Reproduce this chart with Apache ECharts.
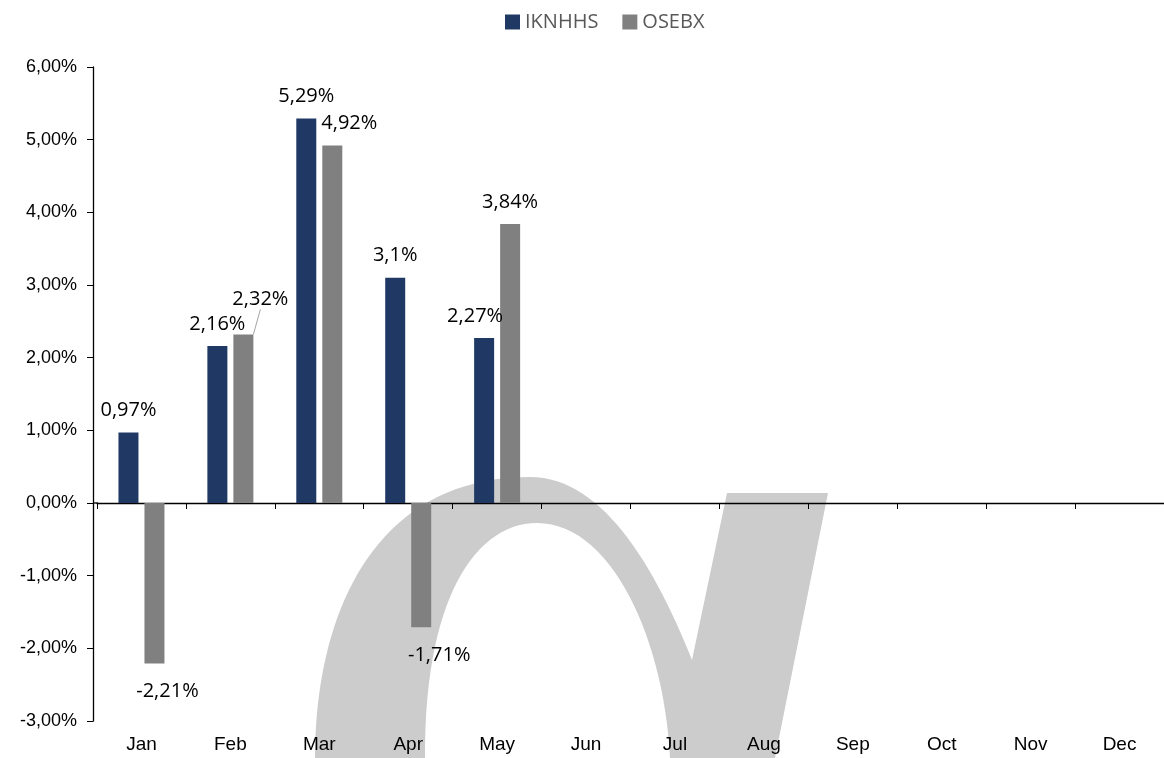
<!DOCTYPE html>
<html>
<head>
<meta charset="utf-8">
<script src="https://cdn.jsdelivr.net/npm/echarts@6/dist/echarts.min.js"></script>
<style>
  html, body { margin: 0; padding: 0; background: #ffffff; }
  #chart { width: 1164px; height: 758px; }
</style>
</head>
<body>
<div id="chart"></div>
<script>
// ---- data ----
const months = ['Jan','Feb','Mar','Apr','May','Jun','Jul','Aug','Sep','Oct','Nov','Dec'];
const seriesNames = ['IKNHHS', 'OSEBX'];
const iknhhs = [0.97, 2.16, 5.29, 3.1, 2.27, null, null, null, null, null, null, null];
const osebx  = [-2.21, 2.32, 4.92, -1.71, 3.84, null, null, null, null, null, null, null];
const yTicks = [-3, -2, -1, 0, 1, 2, 3, 4, 5, 6];

// ---- label nudges (style, per series / month index) ----
const labelShift = {
  0: { 4: [-9, 0] },
  1: { 0: [13, 0], 1: [17, -13], 2: [17, 0], 3: [18, 0] }
};

const fmtVal = v => String(v).replace('.', ',') + '%';
const fmtTick = v => v.toFixed(2).replace('.', ',') + '%';

const chart = echarts.init(document.getElementById('chart'), null, { renderer: 'canvas' });

const labelFont = { fontFamily: 'Open Sans', fontSize: 20, color: '#000000' };
const Y_AXIS_OFFSET = 4;

function barSeries(name, values, color, idx) {
  return {
    name: name,
    type: 'bar',
    xAxisIndex: 0,
    yAxisIndex: 0,
    barWidth: 20,
    barGap: '30%',
    itemStyle: { color: color },
    data: values.map((v, i) => {
      if (v === null) return null;
      const item = { value: v };
      if (v < 0) {
        item.label = { position: 'bottom', distance: 18 };
      }
      if (idx === 1 && i === 1) {
        item.labelLine = { show: true, lineStyle: { color: '#A6A6A6', width: 1 } };
      }
      return item;
    }),
    label: Object.assign({
      show: true,
      position: 'top',
      distance: 12,
      formatter: p => fmtVal(p.value)
    }, labelFont),
    labelLine: { show: false },
    labelLayout: function (params) {
      const s = labelShift[idx] && labelShift[idx][params.dataIndex];
      return s ? { dx: s[0], dy: s[1] } : {};
    },
    z: 3
  };
}

// ---- decorative background watermark (sampled bezier outline) ----
function cubic(p0, p1, p2, p3, n) {
  const out = [];
  for (let k = 1; k <= n; k++) {
    const t = k / n, u = 1 - t;
    out.push([
      u*u*u*p0[0] + 3*u*u*t*p1[0] + 3*u*t*t*p2[0] + t*t*t*p3[0],
      u*u*u*p0[1] + 3*u*u*t*p1[1] + 3*u*t*t*p2[1] + t*t*t*p3[1]
    ]);
  }
  return out;
}
const wm = [[315, 758]]
  .concat(cubic([315,758], [315,620], [370,477], [530,477], 40))
  .concat(cubic([530,477], [600,477], [652,560], [692,660], 30))
  .concat([[727,493], [828,493], [775,758], [670,758]])
  .concat(cubic([670,758], [664,640], [612,523], [537,523], 30))
  .concat(cubic([537,523], [475,523], [424,600], [425,758], 30));

const gridLeft = 97;

chart.setOption({
  animation: false,
  backgroundColor: '#ffffff',
  legend: {
    left: 500,
    top: 7,
    icon: 'rect',
    itemWidth: 15,
    itemHeight: 15,
    itemGap: 24,
    textStyle: { fontFamily: 'Open Sans', fontSize: 20, color: '#595959' },
    data: seriesNames
  },
  grid: { left: gridLeft, right: -4, top: 67, bottom: 37, containLabel: false },
  graphic: [{
    id: 'wm',
    type: 'polygon',
    z: -10,
    silent: true,
    shape: { points: wm },
    style: { fill: '#cccccc' }
  }],
  xAxis: [{
    type: 'category',
    data: months,
    position: 'bottom',
    axisLine: { onZero: true, lineStyle: { color: '#000000', width: 1.3 } },
    axisTick: { show: true, inside: false, length: 6, interval: 0, lineStyle: { color: '#000000' } },
    axisLabel: { show: false },
    splitLine: { show: false }
  }, {
    type: 'category',
    data: months,
    position: 'bottom',
    axisLine: { show: false, onZero: false },
    axisTick: { show: false },
    axisLabel: { show: true, margin: 14, fontFamily: 'Liberation Sans', fontSize: 19, color: '#000000' },
    splitLine: { show: false }
  }],
  yAxis: {
    type: 'value',
    min: yTicks[0],
    max: yTicks[yTicks.length - 1],
    interval: 1,
    offset: Y_AXIS_OFFSET,
    axisLine: { show: true, lineStyle: { color: '#000000', width: 1.3 } },
    axisTick: { show: true, inside: false, length: 6, lineStyle: { color: '#000000' } },
    axisLabel: { margin: 16, fontFamily: 'Liberation Sans', fontSize: 18, color: '#000000', formatter: fmtTick },
    splitLine: { show: false }
  },
  series: [
    barSeries(seriesNames[0], iknhhs, '#1F3864', 0),
    barSeries(seriesNames[1], osebx, '#808080', 1)
  ]
});

// connect the zero line to the offset y axis line
const zeroY = chart.convertToPixel({ yAxisIndex: 0 }, 0);
chart.setOption({
  graphic: [{
    id: 'zeroStub',
    type: 'line',
    z: 5,
    silent: true,
    shape: { x1: gridLeft - Y_AXIS_OFFSET, y1: zeroY, x2: gridLeft + 1, y2: zeroY },
    style: { stroke: '#000000', lineWidth: 1.3 }
  }]
});
</script>
</body>
</html>
